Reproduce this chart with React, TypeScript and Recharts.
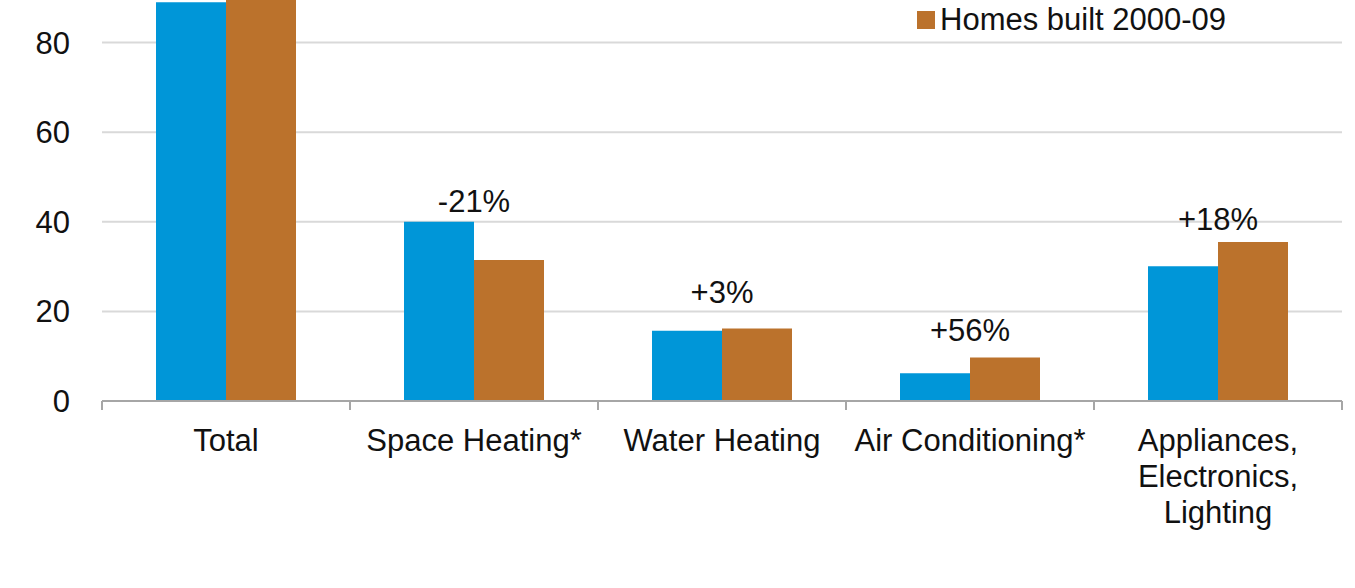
import React from "react";
import {
  ComposedChart,
  Bar,
  Line,
  XAxis,
  YAxis,
  CartesianGrid,
  Legend,
  LabelList,
} from "recharts";

const categories = [
  "Total",
  "Space Heating*",
  "Water Heating",
  "Air Conditioning*",
  "Appliances,\nElectronics,\nLighting",
];
const homesBefore2000 = [89, 40.0, 15.7, 6.2, 30.1];
const homes2000s = [91, 31.5, 16.2, 9.7, 35.5];
const changeLabels = ["", "-21%", "+3%", "+56%", "+18%"];
const changeLabelLevels: (number | null)[] = [null, 44.7, 24.4, 15.8, 40.7];
const yTicks = [0, 20, 40, 60, 80, 100];
const seriesNames = ["Homes built before 2000", "Homes built 2000-09"];

const BLUE = "#0096D8";
const ORANGE = "#BB722C";
const FONT = "'Liberation Sans', Arial, sans-serif";
const TEXT = "#111111";

const data = categories.map((c, i) => ({
  category: c,
  before: homesBefore2000[i],
  after: homes2000s[i],
  change: changeLabels[i],
  level: changeLabelLevels[i],
}));

const CategoryTick = (props: any) => {
  const { x, y, payload, index, visibleTicksCount, width } = props;
  const half =
    payload && typeof payload.offset === "number" && payload.offset > 0
      ? payload.offset
      : width / visibleTicksCount / 2;
  const lines = String(payload.value).split("\n");
  return (
    <g>
      <line x1={x - half} y1={y} x2={x - half} y2={y + 9} stroke="#a6a6a6" strokeWidth={2} />
      {index === visibleTicksCount - 1 && (
        <line x1={x + half} y1={y} x2={x + half} y2={y + 9} stroke="#a6a6a6" strokeWidth={2} />
      )}
      <text x={x} y={y + 50} textAnchor="middle" fill={TEXT} fontSize={31} fontFamily={FONT}>
        {lines.map((l, i) => (
          <tspan key={i} x={x} dy={i === 0 ? 0 : 36}>
            {l}
          </tspan>
        ))}
      </text>
    </g>
  );
};

const LegendContent = () => (
  <div style={{ fontFamily: FONT, fontSize: 31, color: TEXT }}>
    {seriesNames.map((n, i) => (
      <div
        key={n}
        style={{ display: "flex", alignItems: "center", height: 36, whiteSpace: "nowrap" }}
      >
        <span
          style={{
            display: "inline-block",
            width: 18,
            height: 18,
            background: i === 0 ? BLUE : ORANGE,
            marginRight: 5,
          }}
        />
        <span>{n}</span>
      </div>
    ))}
  </div>
);

export default function App() {
  return (
    <div
      style={{
        position: "absolute",
        left: 0,
        top: -100,
        width: 1355,
        height: 688,
        background: "#ffffff",
        fontFamily: FONT,
      }}
    >
      <ComposedChart
        width={1355}
        height={688}
        data={data}
        margin={{ top: 53, right: 13, bottom: 0, left: 0 }}
        barGap={0}
      >
        <CartesianGrid vertical={false} stroke="#d9d9d9" strokeWidth={2} />
        <XAxis
          dataKey="category"
          height={187}
          tickSize={0}
          tickMargin={0}
          axisLine={{ stroke: "#a6a6a6", strokeWidth: 2 }}
          tickLine={false}
          interval={0}
          tick={<CategoryTick />}
        />
        <YAxis
          width={102}
          domain={[0, 100]}
          ticks={yTicks}
          axisLine={false}
          tickLine={false}
          tickSize={0}
          tickMargin={32}
          tick={{ fill: TEXT, fontSize: 31, fontFamily: FONT }}
        />
        <Legend
          layout="horizontal"
          verticalAlign="middle"
          align="center"
          content={<LegendContent />}
          wrapperStyle={{ left: 917, top: 66, width: "auto", height: "auto" }}
        />
        <Bar dataKey="before" name={seriesNames[0]} fill={BLUE} barSize={70} isAnimationActive={false} />
        <Bar dataKey="after" name={seriesNames[1]} fill={ORANGE} barSize={70} isAnimationActive={false} />
        <Line
          dataKey="level"
          stroke="none"
          dot={false}
          activeDot={false}
          legendType="none"
          isAnimationActive={false}
        >
          <LabelList
            dataKey="change"
            position="center"
            fill={TEXT}
            fontSize={31}
            fontFamily={FONT}
          />
        </Line>
      </ComposedChart>
    </div>
  );
}
